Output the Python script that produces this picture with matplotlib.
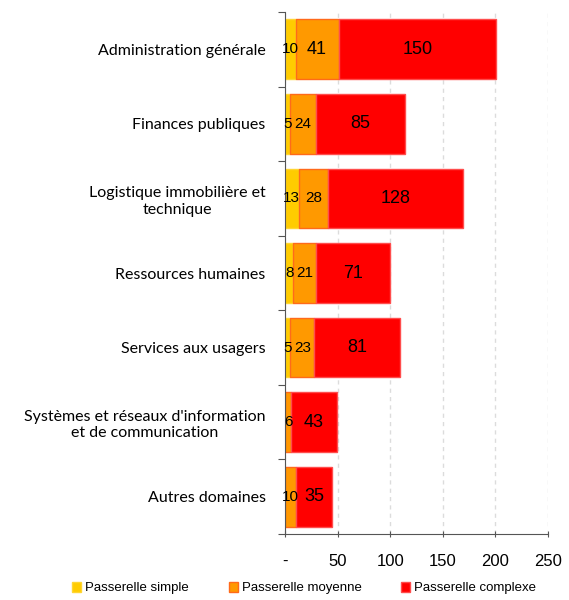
import numpy as np
import matplotlib
matplotlib.use('Agg')
import matplotlib.pyplot as plt
from matplotlib.patches import Patch

categories = ['Administration générale', 'Finances publiques',
              'Logistique immobilière et\ntechnique', 'Ressources humaines',
              'Services aux usagers',
              "Systèmes et réseaux d'information\net de communication",
              'Autres domaines']
simple = [10, 5, 13, 8, 5, 0, 0]
moyenne = [41, 24, 28, 21, 23, 6, 10]
complexe = [150, 85, 128, 71, 81, 43, 35]
series_names = ['Passerelle simple', 'Passerelle moyenne', 'Passerelle complexe']
xticks = [0, 50, 100, 150, 200, 250]
xticklabels = ['-', '50', '100', '150', '200', '250']

colors = ['#FFCC00', '#FF9900', '#FF0000']
edges = ['#FFD633', '#FF6A1A', '#FF4D4D']

fig = plt.figure(figsize=(5.69, 6.0), dpi=100)
ax = fig.add_axes([285/569, 1 - 534/600, (548-285)/569, (534-12)/600])

y = np.arange(len(categories))
left = np.zeros(len(categories))
for vals, c, e in zip([simple, moyenne, complexe], colors, edges):
  vals = np.array(vals)
  ax.barh(y, vals, left=left, height=0.8, color=c, edgecolor=e, linewidth=1, zorder=2)
  for yi, l, v in zip(y, left, vals):
    if v <= 0: continue
    fs = 13 if v > 30 else 11
    ax.text(l + v/2, yi, str(v), ha='center', va='center', fontsize=fs,
            family='Liberation Sans', zorder=3)
  left = left + vals

ax.set_ylim(len(categories) - 0.5, -0.5)
ax.set_xlim(0, 250)
ax.set_yticks(np.arange(-0.5, len(categories), 1.0))
ax.set_yticklabels([])
ax.set_yticks(y, minor=True)
ax.set_yticklabels(categories, minor=True, family='Lato', fontsize=11.5,
                   ha='right', multialignment='center', linespacing=1.25)
ax.tick_params(axis='y', which='minor', length=0, pad=14)
ax.tick_params(axis='y', which='major', length=5, direction='out', color='#555555')
ax.set_xticks(xticks)
ax.set_xticklabels(xticklabels, family='Liberation Sans', fontsize=12)
ax.tick_params(axis='x', length=5, direction='inout', pad=12, color='#555555')
ax.xaxis.grid(True, linestyle=(0, (3, 3)), color='#dcdcdc', linewidth=1, zorder=0)
ax.set_axisbelow(True)
for s in ['top', 'right']:
  ax.spines[s].set_visible(False)
for s in ['left', 'bottom']:
  ax.spines[s].set_color('#555555')

handles = [Patch(facecolor=c, edgecolor=e) for c, e in zip(colors, edges)]
fig.legend(handles, series_names, loc='center left', bbox_to_anchor=(72/569, 1 - 588/600),
           ncol=3, frameon=False, prop={'family': 'Liberation Sans', 'size': 9.5},
           handlelength=0.7, handleheight=0.8, handletextpad=0.3, columnspacing=3.0,
           borderpad=0, borderaxespad=0)

fig.savefig('out.png', dpi=100)
